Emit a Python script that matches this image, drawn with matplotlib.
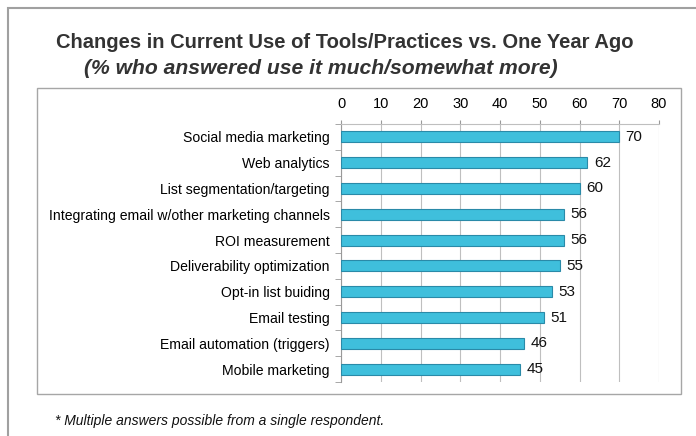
import matplotlib.pyplot as plt
from matplotlib.patches import Rectangle

categories = ["Social media marketing", "Web analytics", "List segmentation/targeting",
              "Integrating email w/other marketing channels", "ROI measurement",
              "Deliverability optimization", "Opt-in list buiding", "Email testing",
              "Email automation (triggers)", "Mobile marketing"]
values = [70, 62, 60, 56, 56, 55, 53, 51, 46, 45]
xticks = [0, 10, 20, 30, 40, 50, 60, 70, 80]

plt.rcParams['font.family'] = ['Liberation Sans', 'DejaVu Sans']

fig = plt.figure(figsize=(6.96, 4.36), dpi=100)

# outer and inner frames
fig.add_artist(Rectangle((8/696, -0.1), 1.0, 1 - 8/436 + 0.1, transform=fig.transFigure,
                         fill=False, ec='#a0a0a0', lw=1.5))
fig.add_artist(Rectangle((37/696, 1 - 394/436), (681-37)/696, (394-88)/436,
                         transform=fig.transFigure, fill=False, ec='#a6a6a6', lw=1))

fig.text(0.495, 1 - 42/436, "Changes in Current Use of Tools/Practices vs. One Year Ago",
         ha='center', va='center', fontsize=14.5, fontweight='bold', color='#333333')
fig.text(0.4605, 1 - 68/436, "(% who answered use it much/somewhat more)",
         ha='center', va='center', fontsize=15.2, fontweight='bold', style='italic',
         color='#333333')
fig.text(0.079, 1 - 421/436, "* Multiple answers possible from a single respondent.",
         ha='left', va='center', fontsize=10, style='italic', color='#111111')

ax = fig.add_axes([341/696, 1 - 382/436, (659-341)/696, (382-124)/436])
y = list(range(len(categories)))
ax.barh(y, values, height=0.42, color='#3fbfdc', edgecolor='#2a8aa8', lw=0.8, zorder=3)
for yi, v in zip(y, values):
    ax.text(v + 1.6, yi, str(v), va='center', ha='left', fontsize=11, color='#111111')

ax.set_xlim(0, 80)
ax.set_ylim(len(categories) - 0.5, -0.5)
ax.set_xticks(xticks)
ax.xaxis.tick_top()
ax.tick_params(axis='x', length=3, color='#999999', labelsize=10.5, pad=6)
ax.set_yticks(y)
ax.set_yticklabels(categories, fontsize=10.1)
ax.set_yticks([i + 0.5 for i in range(-1, len(categories))], minor=True)
ax.tick_params(axis='y', which='major', length=0, pad=8)
ax.tick_params(axis='y', which='minor', length=4, color='#999999')
ax.grid(axis='x', color='#bfbfbf', lw=0.8, zorder=0)
for s in ['right', 'bottom']:
    ax.spines[s].set_visible(False)
ax.spines['left'].set_color('#999999')
ax.spines['top'].set_color('#bfbfbf')

fig.savefig('out.png', dpi=100)
